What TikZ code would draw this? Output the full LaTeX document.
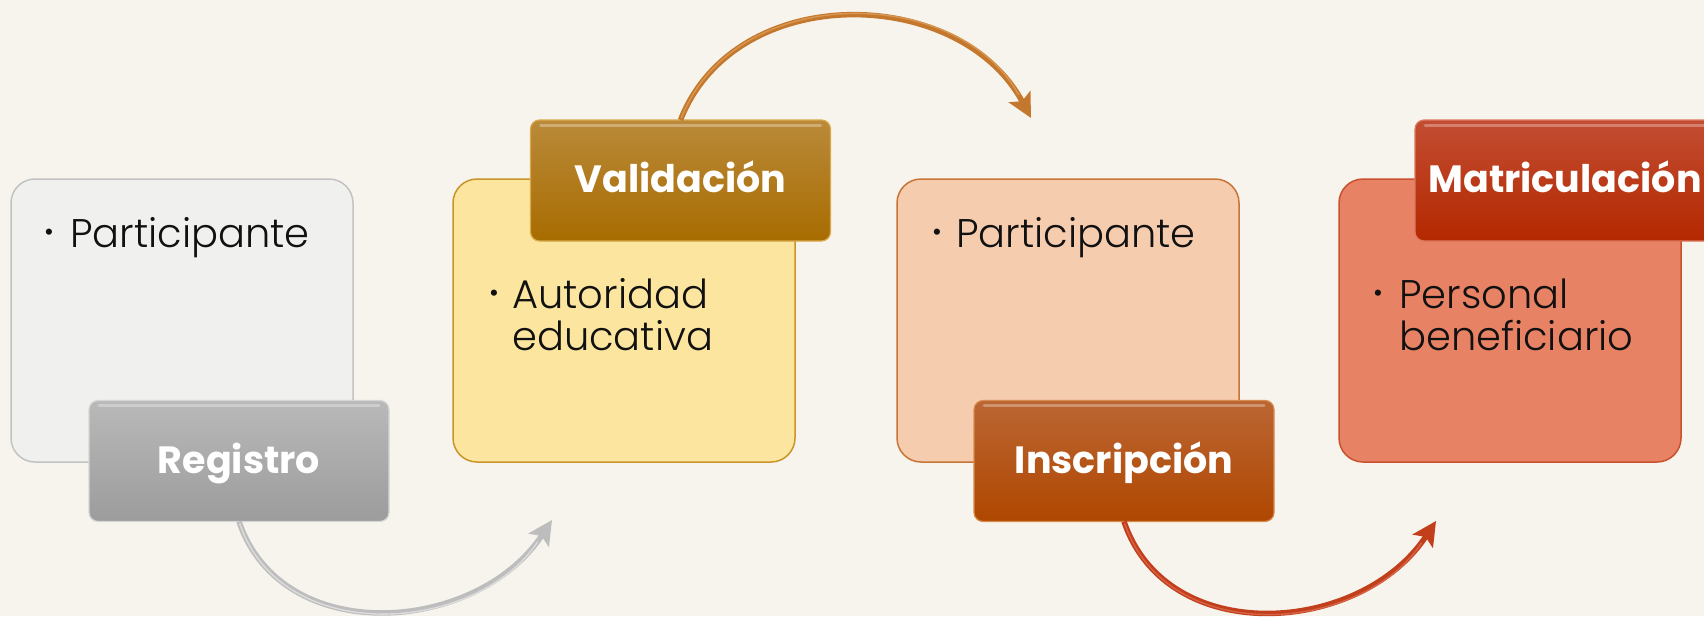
\documentclass[tikz,border=0pt]{standalone}
\usepackage{fontspec}
\setmainfont{Poppins}
\newfontfamily\lightfam{Poppins Light}
\usetikzlibrary{arrows.meta,calc}
\definecolor{bg}{HTML}{F7F4ED}
\definecolor{b1fill}{HTML}{F0F0EF}\definecolor{b1line}{HTML}{C2C2C2}
\definecolor{b2fill}{HTML}{FBE59F}\definecolor{b2line}{HTML}{C9952A}
\definecolor{b3fill}{HTML}{F6CCAF}\definecolor{b3line}{HTML}{C87436}
\definecolor{b4fill}{HTML}{E88265}\definecolor{b4line}{HTML}{C9512F}
\definecolor{t1top}{HTML}{B9B9B9}\definecolor{t1bot}{HTML}{9C9C9C}\definecolor{t1line}{HTML}{D6D6D6}
\definecolor{t2top}{HTML}{BA8A3A}\definecolor{t2bot}{HTML}{A86C00}\definecolor{t2line}{HTML}{D8A94A}
\definecolor{t3top}{HTML}{BB6634}\definecolor{t3bot}{HTML}{AF4700}\definecolor{t3line}{HTML}{D88A4E}
\definecolor{t4top}{HTML}{C24D32}\definecolor{t4bot}{HTML}{B42800}\definecolor{t4line}{HTML}{DE7A5E}
\definecolor{a1main}{HTML}{BDBDBD}\definecolor{a1hi}{HTML}{DCDCDC}
\definecolor{a2main}{HTML}{C4782E}\definecolor{a2hi}{HTML}{D89650}
\definecolor{a3main}{HTML}{C23F1B}\definecolor{a3hi}{HTML}{D86245}
\definecolor{ink}{HTML}{111111}
\newcommand\tabfont{\fontsize{38}{38}\selectfont\bfseries}
\newcommand\bodyfont{\lightfam\fontsize{40}{42}\selectfont}
\tikzset{
  bigbox/.style={draw, line width=1.5pt, rounded corners=24pt, minimum width=342pt,
    minimum height=283pt, inner sep=0pt, outer sep=0pt},
  tabbox/.style={rounded corners=9pt, minimum width=300pt, minimum height=121pt,
    inner sep=0pt, outer sep=0pt, text=white, font=\tabfont, text height=24pt,
    text depth=0pt, line width=1.2pt},
  gloss/.style={white, opacity=0.3, line width=3pt, line cap=round},
  bodytext/.style={anchor=base west, inner sep=0pt, font=\bodyfont, align=left, text=ink},
  bul/.style={inner sep=0pt, text=ink, font=\fontsize{25}{25}\selectfont},
  conn/.style={line width=5.5pt, -{Stealth[length=24pt,width=24pt,inset=5pt]}},
  connhi/.style={line width=1.4pt, shorten >=26pt, shorten <=2pt},
}
\begin{document}
\begin{tikzpicture}[x=1pt,y=-1pt]
\useasboundingbox (0,0) rectangle (1704,616);
\fill[bg] (0,0) rectangle (1704,616);

% big boxes
\node[bigbox, fill=b1fill, draw=b1line] (b1) at (182,320.5) {};
\node[bigbox, fill=b2fill, draw=b2line] (b2) at (624,320.5) {};
\node[bigbox, fill=b3fill, draw=b3line] (b3) at (1068,320.5) {};
\node[bigbox, fill=b4fill, draw=b4line] (b4) at (1510,320.5) {};

% body texts (base = last line)
\node[bul] (u1) at (49,235) {•};
\node[bodytext] (p1) at (70,247) {Participante};
\node[bul] (u2) at (494,296) {•};
\node[bodytext] (p2) at (512,350) {Autoridad\\educativa};
\node[bul] (u3) at (937,235) {•};
\node[bodytext] (p3) at (956,247) {Participante};
\node[bul] (u4) at (1378,296) {•};
\node[bodytext] (p4) at (1399,350) {Personal\\beneficiario};

% tabs
\node[tabbox, top color=t1top, bottom color=t1bot, draw=t1line] (reg) at (239,461) {Registro};
\node[tabbox, top color=t2top, bottom color=t2bot, draw=t2line] (val) at (680.5,180.5) {Validación};
\node[tabbox, top color=t3top, bottom color=t3bot, draw=t3line] (ins) at (1124,461) {Inscripción};
\node[tabbox, top color=t4top, bottom color=t4bot, draw=t4line] (mat) at (1565,180.5) {Matriculación};
\foreach \t in {reg,val,ins,mat}{
  \draw[gloss] ($(\t.north west)+(10,5)$) -- ($(\t.north east)+(-10,5)$);
}

% arrow tips
\coordinate (e1) at (552,520);
\coordinate (e2) at (1031,118);
\coordinate (e3) at (1436,521);

% connectors
\draw[conn, a1main] (reg.south) .. controls +(43,127) and +(-75,114) .. (e1);
\draw[connhi, a1hi] (reg.south) .. controls +(43,127) and +(-75,114) .. (e1);
\draw[conn, a2main] (val.north) .. controls +(55,-140) and +(-71,-133) .. (e2);
\draw[connhi, a2hi] (val.north) .. controls +(55,-140) and +(-71,-133) .. (e2);
\draw[conn, a3main] (ins.south) .. controls +(43,127) and +(-75,114) .. (e3);
\draw[connhi, a3hi] (ins.south) .. controls +(43,127) and +(-75,114) .. (e3);
\end{tikzpicture}
\end{document}
